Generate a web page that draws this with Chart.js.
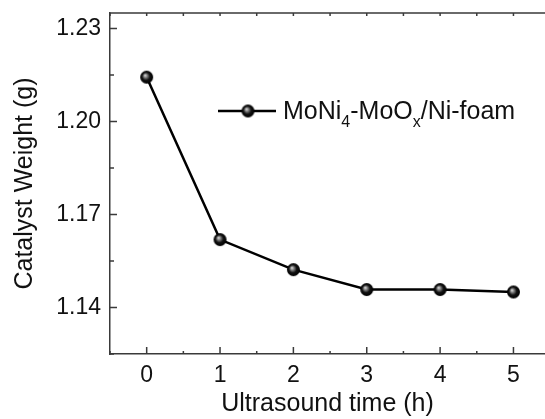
<!DOCTYPE html>
<html>
<head>
<meta charset="utf-8">
<script src="https://cdn.jsdelivr.net/npm/chart.js@4"></script>
<style>
  body { margin: 0; background: #fff; }
  #wrap { width: 545px; height: 419px; }
</style>
</head>
<body>
<div id="wrap"><canvas id="chart" width="545" height="419"></canvas></div>
<script>
// data
const times = [0, 1, 2, 3, 4, 5];
const weights = [1.2143, 1.1619, 1.1522, 1.1458, 1.1458, 1.1450];
const xTicks = [0, 1, 2, 3, 4, 5];
const yTicks = [1.14, 1.17, 1.20, 1.23];
const seriesName = ["MoNi", "4", "-MoO", "x", "/Ni-foam"]; // text, sub, text, sub, text

const axisColor = "#3a3a3a";
const fontFamily = "'Liberation Sans', Arial, sans-serif";

// shaded ball marker
function makeBall(r) {
    const c = document.createElement("canvas");
    c.width = c.height = r * 2 + 2;
    const g = c.getContext("2d");
    const cx = r + 1, cy = r + 1;
    const grad = g.createRadialGradient(cx - r * 0.25, cy - r * 0.3, 0, cx, cy, r);
    grad.addColorStop(0, "#e8e8e8");
    grad.addColorStop(0.3, "#7a7a7a");
    grad.addColorStop(0.6, "#111");
    grad.addColorStop(1, "#000");
    g.fillStyle = grad;
    g.beginPath();
    g.arc(cx, cy, r, 0, Math.PI * 2);
    g.fill();
    return c;
}
const ball = makeBall(6.5);

// ticks inside the frame, top axis line, legend
const framePlugin = {
    id: "frame",
    afterDraw(chart) {
        const ctx = chart.ctx;
        const a = chart.chartArea;
        const xs = chart.scales.x, ys = chart.scales.y;
        ctx.save();
        ctx.strokeStyle = axisColor;
        ctx.lineWidth = 1.5;
        ctx.beginPath();
        ctx.moveTo(a.left, a.top);
        ctx.lineTo(a.right, a.top);
        // x ticks
        for (let v = -0.5; v <= xs.max; v += 0.5) {
            const px = xs.getPixelForValue(v);
            const major = Number.isInteger(v);
            ctx.moveTo(px, a.bottom);
            ctx.lineTo(px, a.bottom - (major ? 7 : 3));
            ctx.moveTo(px, a.top);
            ctx.lineTo(px, a.top + 3);
        }
        // y ticks
        for (let v = 1.125; v <= ys.max + 1e-9; v += 0.015) {
            const py = ys.getPixelForValue(v);
            const major = yTicks.some(t => Math.abs(t - v) < 1e-6);
            ctx.moveTo(a.left, py);
            ctx.lineTo(a.left + (major ? 7 : 4), py);
        }
        ctx.stroke();

        // legend
        const ly = 111;
        ctx.strokeStyle = "#000";
        ctx.lineWidth = 2.5;
        ctx.beginPath();
        ctx.moveTo(218, ly);
        ctx.lineTo(276, ly);
        ctx.stroke();
        ctx.drawImage(ball, 248 - ball.width / 2, ly - ball.height / 2);
        ctx.fillStyle = "#111";
        ctx.textBaseline = "alphabetic";
        let tx = 283;
        seriesName.forEach((s, i) => {
            const sub = i % 2 === 1;
            ctx.font = (sub ? "16px " : "25px ") + fontFamily;
            ctx.fillText(s, tx, sub ? 127 : 119);
            tx += ctx.measureText(s).width;
        });
        ctx.restore();
    }
};

new Chart(document.getElementById("chart"), {
    type: "line",
    data: {
        datasets: [{
            label: seriesName.join(""),
            data: times.map((t, i) => ({ x: t, y: weights[i] })),
            borderColor: "#000",
            borderWidth: 2.5,
            pointStyle: ball,
            pointRadius: 6.5,
            tension: 0
        }]
    },
    options: {
        responsive: false,
        animation: false,
        layout: { autoPadding: false, padding: { top: 13, right: 0, left: 0, bottom: 0 } },
        plugins: { legend: { display: false }, tooltip: { enabled: false } },
        scales: {
            x: {
                type: "linear",
                min: -0.5,
                max: 5.43,
                afterBuildTicks: s => { s.ticks = xTicks.map(v => ({ value: v })); },
                afterFit: s => { s.height = 65; s.paddingLeft = 0; s.paddingRight = 0; },
                grid: { display: true, drawOnChartArea: false, drawTicks: false },
                border: { display: true, color: axisColor, width: 1.5 },
                ticks: { color: "#111", padding: 8, font: { family: fontFamily, size: 23 } },
                title: {
                    display: true, text: "Ultrasound time (h)", color: "#111",
                    padding: { top: 0, bottom: 0 },
                    font: { family: fontFamily, size: 25 }
                }
            },
            y: {
                min: 1.125,
                max: 1.235,
                afterBuildTicks: s => { s.ticks = yTicks.map(v => ({ value: v })); },
                afterFit: s => { s.width = 110; s.paddingTop = 0; s.paddingBottom = 0; },
                grid: { display: true, drawOnChartArea: false, drawTicks: false },
                border: { display: true, color: axisColor, width: 1.5 },
                ticks: {
                    color: "#111", padding: 9,
                    font: { family: fontFamily, size: 23 },
                    callback: v => v.toFixed(2)
                },
                title: {
                    display: true, text: "Catalyst Weight (g)", color: "#111",
                    padding: { top: 10, bottom: 0 },
                    font: { family: fontFamily, size: 25 }
                }
            }
        }
    },
    plugins: [framePlugin]
});
</script>
</body>
</html>
